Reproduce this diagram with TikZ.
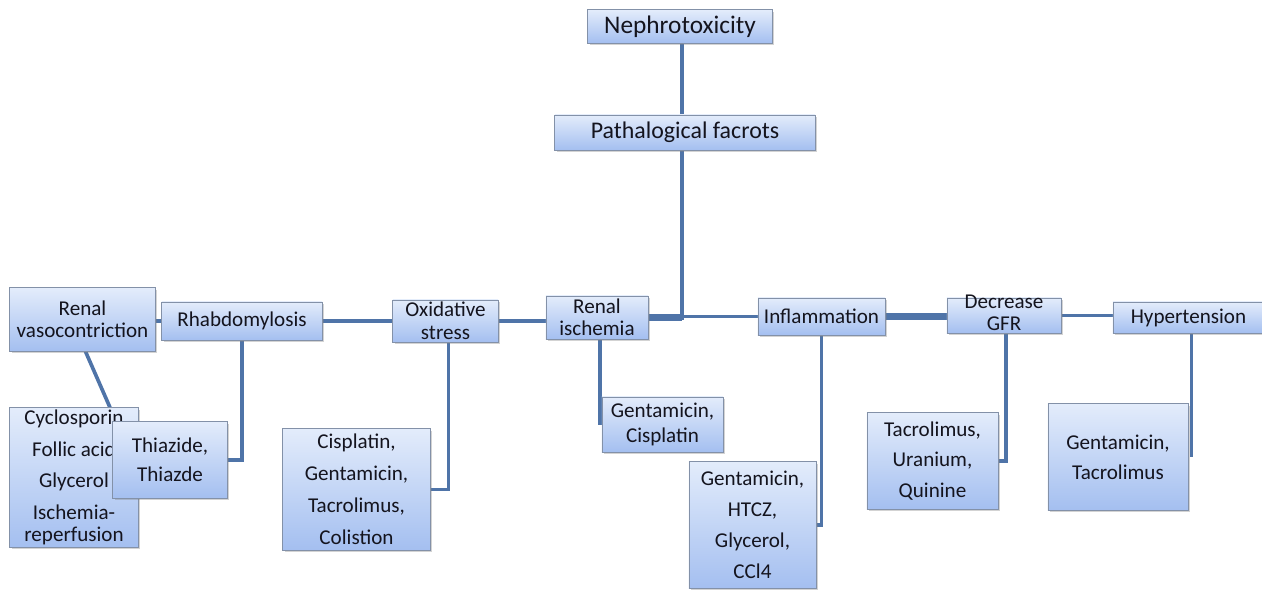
\documentclass[tikz,border=0pt]{standalone}
\usepackage{fontspec}
\setmainfont{Carlito}
\usetikzlibrary{shadows, calc, backgrounds}
\definecolor{linkblue}{HTML}{4F74A8}
\definecolor{boxedge}{HTML}{8391A8}
\definecolor{boxtop}{HTML}{E3ECFB}
\definecolor{boxbot}{HTML}{A4BFF0}
\definecolor{inkdark}{HTML}{14141E}

\begin{document}
\begin{tikzpicture}[x=0.025cm, y=-0.025cm,
    cbox/.style={draw=boxedge, line width=0.7pt, top color=boxtop, bottom color=boxbot,
      drop shadow={opacity=0.35, shadow xshift=1.3pt, shadow yshift=-1.3pt},
      inner sep=0pt, align=center, text=inkdark, font=\fontsize{15}{16}\selectfont},
    lsk/.style={font=\fontsize{15}{#1}\selectfont},
    link/.style={draw=linkblue, line width=2.6pt},
    heavy link/.style={draw=linkblue, line width=4.6pt}]
  \useasboundingbox (0,0) rectangle (1262,590);

  % Top of the tree
  \node[cbox, minimum width=4.6cm, minimum height=0.825cm, font=\fontsize{18}{20}\selectfont] (neph) at (680,26.5) {Nephrotoxicity};
  \node[cbox, minimum width=6.5cm, minimum height=0.875cm, font=\fontsize{17}{19}\selectfont] (path) at (685,132.5) {Pathalogical facrots};
  \coordinate (hub) at (682,320);

  % Row of factors
  \node[cbox, lsk=15.6pt, minimum width=3.625cm, minimum height=1.575cm] (rv) at (82.5,319.5) {Renal\\vasocontriction};
  \node[cbox, minimum width=4.0cm, minimum height=0.95cm] (rhab) at (242,321) {Rhabdomylosis};
  \node[cbox, lsk=16.3pt, minimum width=2.625cm, minimum height=1.05cm] (ox) at (445.5,321) {Oxidative\\stress};
  \node[cbox, lsk=15.6pt, minimum width=2.55cm, minimum height=1.075cm] (ri) at (597,317.5) {Renal\\ischemia};
  \node[cbox, minimum width=3.175cm, minimum height=0.925cm] (infl) at (821.5,316.5) {Inflammation};
  \node[cbox, minimum width=2.85cm, minimum height=0.875cm] (gfr) at (1004,315.5) {};
  \node[align=center, text=inkdark, lsk=15.6pt, inner sep=0pt] (gfrtext) at (1004,313) {Decrease\\GFR};
  \node[cbox, minimum width=3.775cm, minimum height=0.775cm] (hyp) at (1188.5,317.5) {Hypertension};

  % Agents under each factor
  \node[cbox, lsk=22.4pt, minimum width=3.2cm, minimum height=3.475cm] (cy) at (74,477.5) {Cyclosporin\\Follic acid\\Glycerol\\Ischemia-\\[-6.8pt]reperfusion};
  \node[cbox, lsk=20.6pt, minimum width=2.85cm, minimum height=1.9cm] (thia) at (170,460) {Thiazide,\\Thiazde};
  \node[cbox, lsk=22.7pt, minimum width=3.675cm, minimum height=3.025cm] (cis) at (356.5,489.5) {Cisplatin,\\Gentamicin,\\Tacrolimus,\\Colistion};
  \node[cbox, lsk=17.8pt, minimum width=3.025cm, minimum height=1.375cm] (gc) at (662.5,424.5) {Gentamicin,\\Cisplatin};
  \node[cbox, lsk=22pt, minimum width=3.175cm, minimum height=3.15cm] (ghtcz) at (752.5,525) {Gentamicin,\\HTCZ,\\Glycerol,\\CCl4};
  \node[cbox, lsk=21.7pt, minimum width=3.275cm, minimum height=2.4cm] (tac) at (932.5,461) {Tacrolimus,\\Uranium,\\Quinine};
  \node[cbox, lsk=21.3pt, minimum width=3.5cm, minimum height=2.65cm] (gt) at (1118,457) {Gentamicin,\\Tacrolimus};

  \begin{scope}[on background layer]
    % Trunk
    \draw[link] (neph.south -| hub) -- (path.north -| hub);
    \draw[link] (path.south -| hub) -- (hub);
    \draw[heavy link] (ri.east) -- (ri.east -| hub);
    \draw[link] (hub |- infl.west) -- (infl.west);

    % Horizontal chain
    \draw[link] (rhab.west -| rv.east) -- (rhab.west);
    \draw[link] (rhab.east) -- (ox.west);
    \draw[link] (ox.east) -- (ri.west |- ox.east);
    \draw[heavy link] (infl.east) -- (gfr.west |- infl.east);
    \draw[link] (gfr.east) -- (hyp.west |- gfr.east);

    % Branches down to the agents
    \draw[link] ($(rv.south)+(3,0)$) -- ($(cy.north)+(36,0)$);
    \draw[link] (rhab.south) |- (thia.east);
    \draw[link] ($(ox.south)+(3,0)$) |- (cis.east);
    \draw[link] ($(ri.south)+(3,0)$) -- ($(gc.west -| ri.south)+(3,0)$);
    \draw[link] (infl.south) |- (ghtcz.east);
    \draw[link] ($(gfr.south)+(2,0)$) |- (tac.east);
    \draw[link] ($(hyp.south)+(3,0)$) -- ($(hyp.south |- gt.east)+(3,0)$);
  \end{scope}
\end{tikzpicture}
\end{document}
